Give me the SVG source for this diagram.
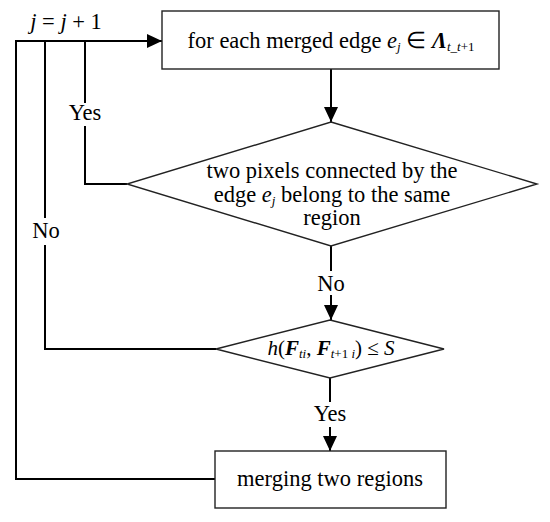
<svg xmlns="http://www.w3.org/2000/svg" width="550" height="522" viewBox="0 0 550 522">
<style>
.box{fill:#fff;stroke:#222;stroke-width:1.4}
.ln{fill:none;stroke:#000;stroke-width:2}
text{font-family:'Liberation Serif',serif;font-size:22.5px;fill:#000}
.c{text-anchor:middle}
.i{font-style:italic}
.bi{font-style:italic;font-weight:bold}
.sub{font-size:13px}
.sm{font-size:21px}
</style>
<defs>
<marker id="ah" markerUnits="userSpaceOnUse" markerWidth="15" markerHeight="14" refX="15" refY="7" orient="auto">
<path d="M0,0 L15,7 L0,14 z" fill="#000"/>
</marker>
</defs>
<rect width="550" height="522" fill="#fff"/>
<g id="connectors">
<path class="ln" d="M331,69 V122" marker-end="url(#ah)"/>
<path class="ln" d="M331,246 V271"/>
<path class="ln" d="M331,295 V320" marker-end="url(#ah)"/>
<path class="ln" d="M330,378 V402"/>
<path class="ln" d="M330,427 V451" marker-end="url(#ah)"/>
<path class="ln" d="M127,184 H85 V126"/>
<path class="ln" d="M85,103 V41"/>
<path class="ln" d="M216,349 H45 V245"/>
<path class="ln" d="M45,218 V41"/>
<path class="ln" d="M215,479 H16 V41 H162" marker-end="url(#ah)"/>
<text class="c" x="66" y="29"><tspan class="i">j</tspan> = <tspan class="i">j</tspan> + 1</text>
<text class="c" x="85" y="120">Yes</text>
<text class="c" x="46" y="238">No</text>
<text class="c" x="331" y="291">No</text>
<text class="c" x="330" y="421">Yes</text>
</g>
<g id="loop-start">
<rect class="box" x="162" y="11" width="337" height="58"/>
<text class="c" x="331" y="48">for each merged edge <tspan class="i">e</tspan><tspan class="i sub" dy="3">j</tspan><tspan dy="-3"> ∈ </tspan><tspan class="bi">Λ</tspan><tspan class="i sub" dy="3">t_t</tspan><tspan class="sub">+1</tspan></text>
</g>
<g id="same-region">
<polygon class="box" points="331,122 537,184 331,246 127,184"/>
<text class="c" x="332" y="178">two pixels connected by the</text>
<text class="c" x="332" y="202">edge <tspan class="i">e</tspan><tspan class="i sub" dy="3">j</tspan><tspan dy="-3"> belong to the same</tspan></text>
<text class="c" x="332" y="225">region</text>
</g>
<g id="threshold">
<polygon class="box" points="330,320 444,349 330,378 216,349"/>
<text class="c sm" x="331" y="355"><tspan class="i">h</tspan>(<tspan class="bi">F</tspan><tspan class="i sub" dy="3">ti</tspan><tspan dy="-3">, </tspan><tspan class="bi">F</tspan><tspan class="i sub" dy="3">t</tspan><tspan class="sub">+1 </tspan><tspan class="i sub">i</tspan><tspan dy="-3">) ≤ </tspan><tspan class="i">S</tspan></text>
</g>
<g id="merge">
<rect class="box" x="215" y="451" width="231" height="57"/>
<text class="c" x="330" y="486">merging two regions</text>
</g>
</svg>
